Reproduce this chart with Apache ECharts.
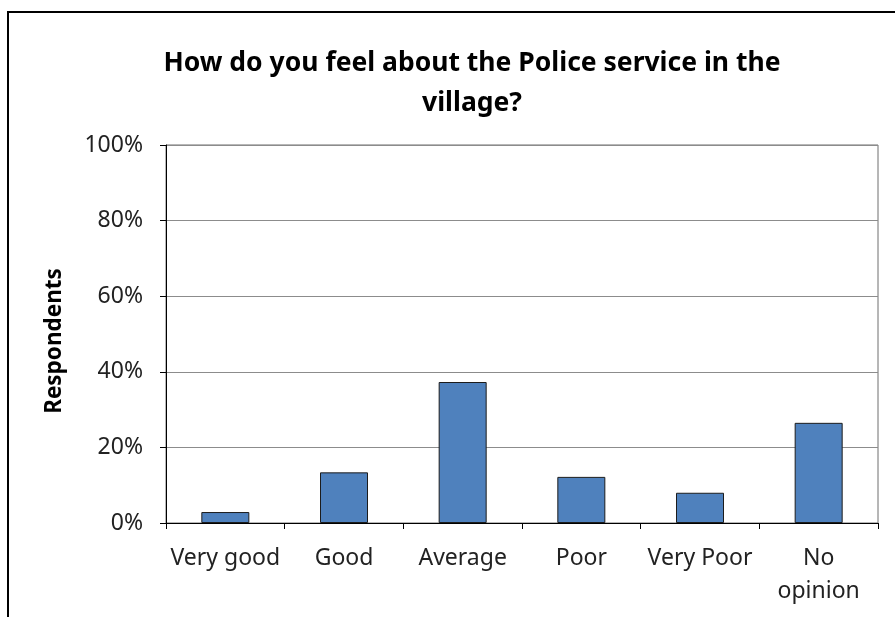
<!DOCTYPE html>
<html>
<head>
<meta charset="utf-8">
<script src="https://cdn.jsdelivr.net/npm/echarts@6/dist/echarts.min.js"></script>
<style>
  html, body { margin: 0; padding: 0; background: #fff; }
  #chart { width: 895px; height: 617px; }
</style>
</head>
<body>
<div id="chart"></div>
<script>
  // categories and answers (share of respondents, %)
  const categories = ['Very good', 'Good', 'Average', 'Poor', 'Very Poor', 'No\nopinion'];
  const respondents = [2.9, 13.4, 37.3, 12.2, 8.0, 26.5];
  const yTicks = [0, 20, 40, 60, 80, 100];

  const font = '"Noto Sans", "Open Sans", sans-serif';

  const myChart = echarts.init(document.getElementById('chart'));
  const option = {
    animation: false,
    backgroundColor: '#fff',
    title: {
      text: 'How do you feel about the Police service in the\nvillage?',
      left: 467,
      top: 38,
      textAlign: 'center',
      textStyle: {
        fontFamily: font,
        fontSize: 26.5,
        fontWeight: 'bold',
        color: '#000',
        lineHeight: 40
      }
    },
    graphic: [{
      type: 'rect',
      shape: { x: 8, y: 12, width: 920, height: 640 },
      style: { fill: 'none', stroke: '#000', lineWidth: 2 },
      silent: true
    }],
    grid: {
      left: 166,
      top: 145,
      width: 712,
      height: 378,
      show: true,
      borderColor: '#6e6e6e',
      borderWidth: 1
    },
    xAxis: {
      type: 'category',
      data: categories,
      axisLine: { lineStyle: { color: '#000', width: 1 } },
      axisTick: { show: true, length: 6, alignWithLabel: false, lineStyle: { color: '#000' } },
      axisLabel: {
        interval: 0,
        margin: 19,
        fontFamily: font,
        fontSize: 23,
        color: '#222',
        lineHeight: 33
      }
    },
    yAxis: {
      type: 'value',
      min: yTicks[0],
      max: yTicks[yTicks.length - 1],
      interval: 20,
      name: 'Respondents',
      nameLocation: 'middle',
      nameGap: 100,
      nameRotate: 90,
      nameTextStyle: {
        fontFamily: font,
        fontSize: 22.5,
        fontWeight: 'bold',
        color: '#000',
        padding: [0, 14, 0, 0]
      },
      axisLine: { show: true, lineStyle: { color: '#000', width: 1 } },
      axisTick: { show: true, length: 6, lineStyle: { color: '#000' } },
      axisLabel: {
        margin: 23,
        fontFamily: font,
        fontSize: 23,
        color: '#222',
        formatter: '{value}%'
      },
      splitLine: { lineStyle: { color: '#8c8c8c', width: 1 } }
    },
    series: [{
      type: 'bar',
      data: respondents,
      barWidth: 48,
      itemStyle: {
        color: '#4f81bd',
        borderColor: '#1c1c1c',
        borderWidth: 1
      }
    }]
  };
  myChart.setOption(option);
</script>
</body>
</html>
